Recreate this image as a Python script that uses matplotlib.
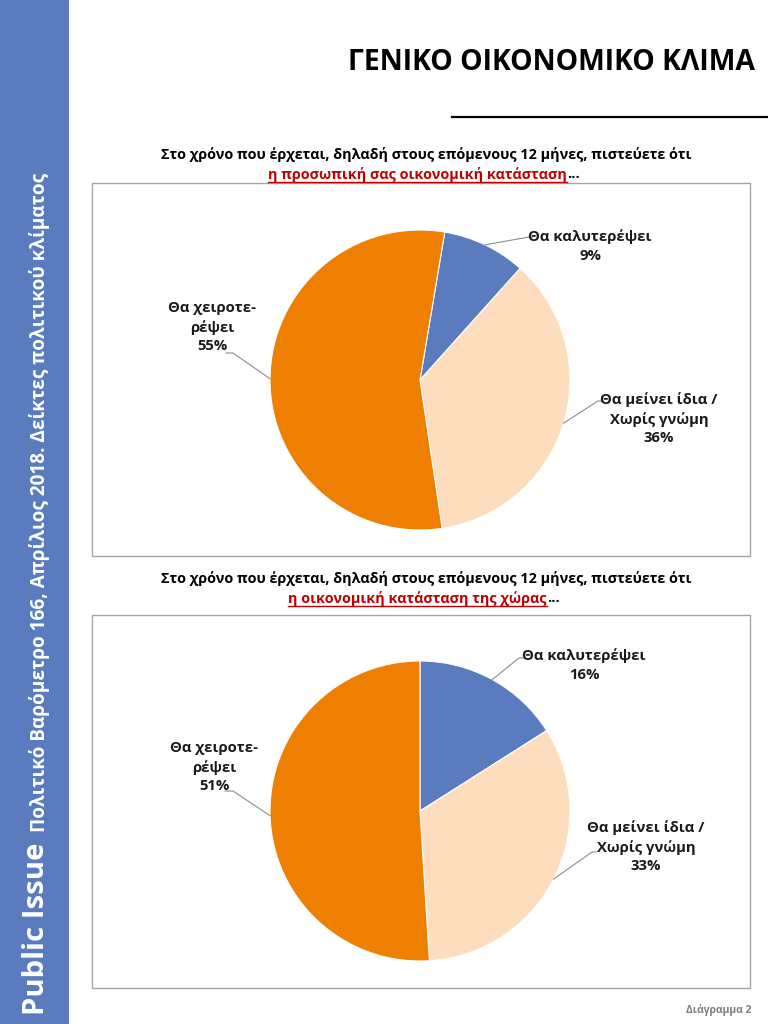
import matplotlib
matplotlib.use('Agg')
import matplotlib.pyplot as plt
import numpy as np
from matplotlib.patches import Rectangle
from matplotlib.lines import Line2D

plt.rcParams['font.family'] = ['Open Sans', 'DejaVu Sans']

# ---------------- data ----------------
title = "ΓΕΝΙΚΟ ΟΙΚΟΝΟΜΙΚΟ ΚΛΙΜΑ"
side_brand = "Public Issue"
side_text = "Πολιτικό Βαρόμετρο 166, Απρίλιος 2018. Δείκτες πολιτικού κλίματος"
question = "Στο χρόνο που έρχεται, δηλαδή στους επόμενους 12 μήνες, πιστεύετε ότι"
subjects = ["η προσωπική σας οικονομική κατάσταση", "η οικονομική κατάσταση της χώρας"]
categories = ["Θα καλυτερέψει", "Θα μείνει ίδια /\nΧωρίς γνώμη", "Θα χειροτε-\nρέψει"]
personal = [9, 36, 55]
country = [16, 33, 51]
footer = "Διάγραμμα 2"

# ---------------- style ----------------
BLUE = '#5A7BBE'
colors = [BLUE, '#FDDDBD', '#EE7F00']
RED = '#C00000'
W, H = 768, 1024

fig = plt.figure(figsize=(7.68, 10.24), dpi=100)
fig.patch.set_facecolor('white')
renderer = fig.canvas.get_renderer()

def fx(x):
    return x / W

def fy(y):
    return 1 - y / H

def fit(t, target, vertical=False):
    bb = t.get_window_extent(renderer)
    size = bb.height if vertical else bb.width
    t.set_fontsize(t.get_fontsize() * target / size)

# sidebar
fig.patches.append(Rectangle((0, 0), fx(69), 1, transform=fig.transFigure,
                             facecolor=BLUE, edgecolor='none'))
tb = fig.text(fx(37), fy(1015), side_brand, rotation=90, ha='center', va='bottom',
              color='white', fontweight='bold', fontsize=20)
fit(tb, 172, vertical=True)
ts = fig.text(fx(40), fy(832), side_text, rotation=90, ha='center', va='bottom',
              color='white', fontweight='bold', fontsize=13)
fit(ts, 655, vertical=True)

# title and rule
tt = fig.text(fx(755), fy(62), title, ha='right', va='center', fontweight='bold',
              fontsize=20, color='black')
fit(tt, 410)
fig.add_artist(Line2D([fx(452), 1.0], [fy(117), fy(117)], transform=fig.transFigure,
                      color='black', lw=1.6))

# footer
fig.text(fx(752), fy(1010), footer, ha='right', va='center', fontsize=7.5,
         color='#7F7F7F', fontweight='bold')

boxes = [(183, 556), (615, 988)]
q_y = [(155, 174), (578, 598)]
pie_top = [230, 661]
starts = [80.5, 90]
datasets = [personal, country]
label_pos = [
    [(590, 246), (659, 419), (212, 327)],
    [(584, 665), (646, 847), (214, 767)],
]
elbows = [
    [((529, 237), (533, 237)), ((598, 401), (602, 401)), ((233, 353), (226, 353))],
    [((519, 658), (523, 658)), ((592, 852), (596, 852)), ((233, 791), (225, 791))],
]

inv = fig.transFigure.inverted()

for i in range(2):
    top, bot = boxes[i]
    fig.patches.append(Rectangle((fx(92), fy(bot)), fx(750) - fx(92), fy(top) - fy(bot),
                                 transform=fig.transFigure, fill=False,
                                 edgecolor='#A6A6A6', lw=1.0))
    # question text
    y1, y2 = q_y[i]
    q = fig.text(fx(426), fy(y1), question, ha='center', va='center',
                 fontweight='bold', fontsize=10, color='black')
    fit(q, 530)
    fs = q.get_fontsize()
    red = fig.text(0, fy(y2), subjects[i], ha='left', va='center',
                   fontweight='bold', fontsize=fs, color=RED)
    dots = fig.text(0, fy(y2), "...", ha='left', va='center',
                    fontweight='bold', fontsize=fs, color='black')
    wr = red.get_window_extent(renderer).width
    wd = dots.get_window_extent(renderer).width
    x0 = 424 - (wr + wd) / 2
    red.set_x(fx(x0))
    dots.set_x(fx(x0 + wr))
    fig.add_artist(Line2D([fx(x0), fx(x0 + wr)], [fy(y2 + 8), fy(y2 + 8)],
                          transform=fig.transFigure, color=RED, lw=1.0))

    # pie
    pt = pie_top[i]
    ax = fig.add_axes([fx(270), fy(pt + 300), 300 / W, 300 / H])
    wedges, _ = ax.pie(datasets[i], colors=colors, startangle=starts[i],
                       counterclock=False, radius=1,
                       wedgeprops=dict(edgecolor='white', linewidth=0.8))
    ax.set_xlim(-1, 1)
    ax.set_ylim(-1, 1)
    ax.axis('off')
    fig.canvas.draw()

    for j, w in enumerate(wedges):
        th = np.deg2rad((w.theta1 + w.theta2) / 2)
        p = ax.transData.transform((np.cos(th), np.sin(th)))
        pf = inv.transform(p)
        (ex, ey), (hx, hy) = elbows[i][j]
        fig.add_artist(Line2D([pf[0], fx(ex), fx(hx)], [pf[1], fy(ey), fy(hy)],
                              transform=fig.transFigure, color='#8C8C8C', lw=0.8))
        lx, ly = label_pos[i][j]
        fig.text(fx(lx), fy(ly), f"{categories[j]}\n{datasets[i][j]}%",
                 ha='center', va='center', multialignment='center',
                 fontweight='bold', fontsize=10.7, linespacing=1.4, color='#1A1A1A')

fig.savefig('out.png', dpi=100)
